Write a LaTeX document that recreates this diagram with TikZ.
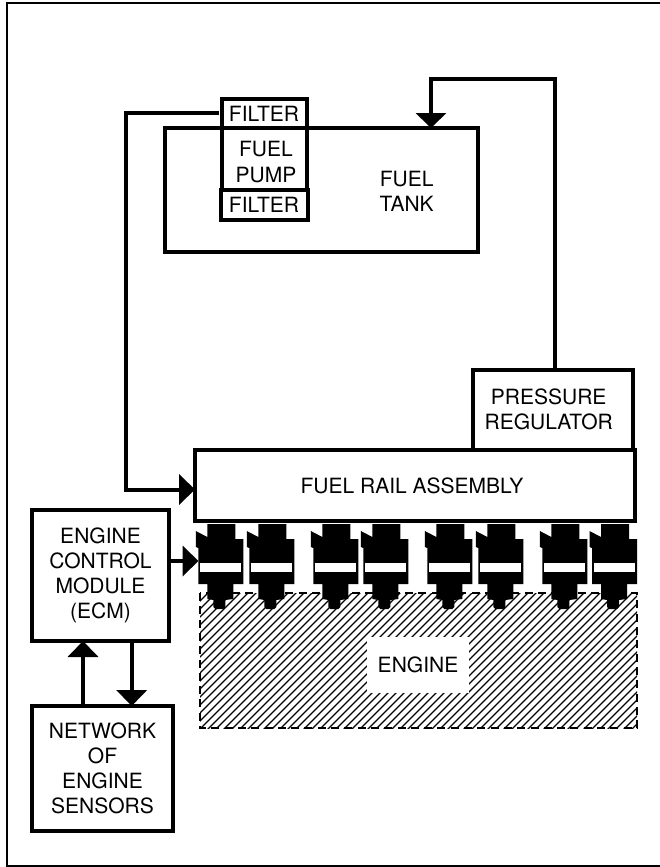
\documentclass[tikz,border=0pt]{standalone}
\usepackage{fontspec}
\setmainfont{TeX Gyre Heros}
\usetikzlibrary{arrows.meta}
\tikzset{
  x=1pt,y=-1pt,
  box/.style={draw,line width=#1,outer sep=0pt,inner sep=0pt,fill=white,align=center,font=\lbl},
  box/.default=4pt,
  txt/.style={inner sep=0pt,align=center,font=\lbl},
  flow/.style={line width=4pt,-{Triangle[length=16pt,width=30pt]}},
  pics/injector/.style={code={
    \fill[black] (9,524)--(37,524)--(37,539)--(45,539)--(45,584)--(35,584)--(35,599)--(27,600)--(27,607)--(25,609)--(17,609)--(15,607)--(15,600)--(9,599)--(9,584)--(0,584)--(0,548)--(-2.5,547)--(-2.5,531)--(9,537)--cycle;
    \fill[white] (2,563) rectangle (42.7,572);
  }}
}
\newcommand{\lbl}{\fontsize{21}{25.2}\selectfont}
\begin{document}
\begin{tikzpicture}
\useasboundingbox (0,0) rectangle (660,867);
\draw[line width=2pt] (7,866) -- (7,3.3) -- (660,3.3);
\draw[line width=2pt] (6,866) -- (660,866);
% engine hatch
\begin{scope}
\clip (200,593) rectangle (637,728);
\foreach \k in {0,...,75}{
  \draw[line width=1.3pt] ({200+8*\k-140},733) -- ({200+8*\k+5},588);
}
\end{scope}
\draw[line width=2.5pt,dash pattern=on 8pt off 5.3pt] (200,593) rectangle (637,728);
\node[txt,fill=white,minimum width=102pt,minimum height=56pt] (engine) at (418,665) {\raisebox{-3pt}{ENGINE}};
% tank
\node[box=3.5pt,minimum width=313pt,minimum height=124pt] (tank) at (321.5,190) {};
\node[txt] (tanktext) at (406.7,191.5) {FUEL\\TANK};
\node[box,minimum width=85pt,minimum height=30pt] (filtertop) at (264,113.5) {\raisebox{-2pt}{FILTER}};
\node[box,minimum width=85pt,minimum height=62pt] (pump) at (264,159) {};
\node[txt] (pumptext) at (266,162) {FUEL\\PUMP};
\node[box,minimum width=87pt,minimum height=30pt] (filterlow) at (264,205) {\raisebox{-1pt}{FILTER}};
% rail and regulator
\node[box=3.5pt,minimum width=160pt,minimum height=80pt] (reg) at (553,410) {};
\node[txt] (regtext) at (548.7,409.5) {PRESSURE\\REGULATOR};
\node[box,minimum width=440pt,minimum height=71pt] (rail) at (415,485.5) {\hspace*{-6pt}\raisebox{-1pt}{FUEL RAIL ASSEMBLY}};
% ecm, sensors
\node[box,minimum width=137pt,minimum height=131pt] (ecm) at (100.5,575.5) {ENGINE\\CONTROL\\MODULE\\(ECM)};
\node[box,minimum width=141pt,minimum height=125pt] (sensors) at (102.5,768.5) {NETWORK\\OF\\ENGINE\\SENSORS};
% injectors
\foreach \i/\x in {1/198.3,2/249.3,3/313.3,4/363.3,5/427.3,6/478.3,7/542.3,8/592}{
  \pic (inj\i) at (\x,0) {injector};
}
\coordinate (injin) at (198.5,561);
\coordinate (supply) at (126,113);
\coordinate (railin) at (126,489.5);
\coordinate (retA) at (555,79);
\coordinate (retB) at (431,79);
\coordinate (upx) at (83,0);
\coordinate (downx) at (131.7,0);
% connectors
\draw[flow,shorten <=3pt]
  (filtertop.west |- supply) -- (supply) -- (railin) -- (rail.west |- railin);
\draw[line width=4pt,-{Triangle[length=15pt,width=30pt]}]
  (reg.north -| retA) -- (retA) -- (retB) -- (tank.north -| retB);
\draw[flow] (ecm.east |- injin) -- (injin);
\draw[flow] (sensors.north -| upx) -- (ecm.south -| upx);
\draw[flow] (ecm.south -| downx) -- (sensors.north -| downx);
\end{tikzpicture}
\end{document}
